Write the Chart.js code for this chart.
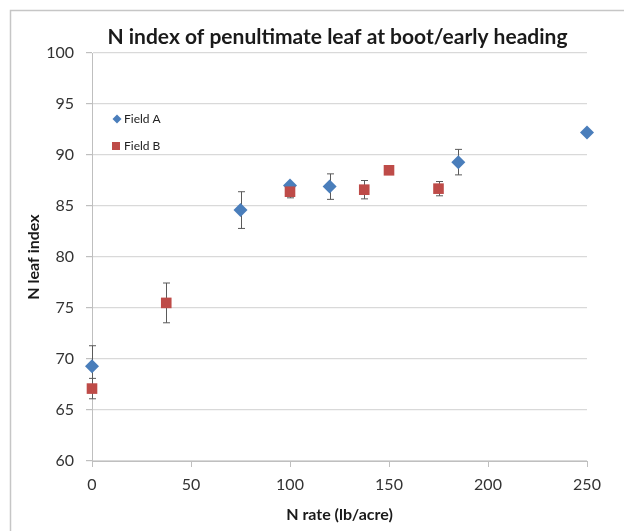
<!DOCTYPE html>
<html>
<head>
<meta charset="utf-8">
<script src="https://cdn.jsdelivr.net/npm/chart.js@4.4.1/dist/chart.umd.min.js"></script>
<style>
  html, body { margin: 0; padding: 0; background: #fff; }
</style>
</head>
<body>
<canvas id="nIndexChart" width="624" height="531"></canvas>
<script>
// Field A (diamonds)
const rateA = [0, 75, 100, 120, 185, 250];
const indexA = [69.3, 84.6, 87.0, 86.9, 89.3, 92.2];
const errA = [2.0, 1.8, 0, 1.25, 1.25, 0];

// Field B (squares)
const rateB = [0, 37.5, 100, 137.5, 150, 175];
const indexB = [67.1, 75.5, 86.4, 86.6, 88.5, 86.7];
const errB = [1.0, 1.95, 0.6, 0.9, 0.3, 0.7];

const xTicks = [0, 50, 100, 150, 200, 250];
const yTicks = [60, 65, 70, 75, 80, 85, 90, 95, 100];

const BLUE = '#4a7ebb';
const RED = '#be4b48';
const FONT = 'Lato, "Open Sans", sans-serif';

function toPoints(xs, ys) {
    return xs.map((x, i) => ({ x: x, y: ys[i] }));
}

// frame + title
const framePlugin = {
    id: 'frame',
    beforeDraw(chart) {
        const ctx = chart.ctx;
        ctx.save();
        ctx.strokeStyle = '#c6c6c6';
        ctx.lineWidth = 1.5;
        ctx.strokeRect(10.5, 10.5, 700, 600);
        ctx.restore();
    },
    afterDraw(chart) {
        const ctx = chart.ctx;
        const area = chart.chartArea;
        ctx.save();
        ctx.fillStyle = '#1a1a1a';
        ctx.font = 'bold 21px ' + FONT;
        ctx.textAlign = 'center';
        ctx.textBaseline = 'middle';
        ctx.fillText('N index of penultimate leaf at boot/early heading', (area.left + area.right) / 2 - 2, 37);
        ctx.restore();
    }
};

// error bars drawn under the markers
const errorBarPlugin = {
    id: 'errorBars',
    beforeDatasetsDraw(chart) {
        const ctx = chart.ctx;
        const xs = chart.scales.x, ys = chart.scales.y;
        const sets = [[rateA, indexA, errA], [rateB, indexB, errB]];
        ctx.save();
        ctx.strokeStyle = '#5a5a5a';
        ctx.lineWidth = 1;
        sets.forEach(([xv, yv, ev]) => {
            xv.forEach((x, i) => {
                if (!ev[i]) return;
                const px = Math.round(xs.getPixelForValue(x)) + 0.5;
                const top = ys.getPixelForValue(yv[i] + ev[i]);
                const bot = ys.getPixelForValue(yv[i] - ev[i]);
                ctx.beginPath();
                ctx.moveTo(px, top); ctx.lineTo(px, bot);
                ctx.moveTo(px - 3.5, top); ctx.lineTo(px + 3.5, top);
                ctx.moveTo(px - 3.5, bot); ctx.lineTo(px + 3.5, bot);
                ctx.stroke();
            });
        });
        ctx.restore();
    }
};

// legend placed inside the plot, upper left
const insideLegend = {
    id: 'insideLegend',
    afterDraw(chart) {
        const ctx = chart.ctx;
        ctx.save();
        ctx.fillStyle = BLUE;
        ctx.beginPath();
        ctx.moveTo(117, 114.5); ctx.lineTo(121.5, 119); ctx.lineTo(117, 123.5); ctx.lineTo(112.5, 119);
        ctx.closePath();
        ctx.fill();
        ctx.fillStyle = RED;
        ctx.fillRect(112, 142, 8, 8);
        ctx.fillStyle = '#222';
        ctx.font = '12px ' + FONT;
        ctx.textBaseline = 'middle';
        ctx.fillText('Field A', 124, 119);
        ctx.fillText('Field B', 124, 146);
        ctx.restore();
    }
};

new Chart(document.getElementById('nIndexChart'), {
    type: 'scatter',
    data: {
        datasets: [
            {
                label: 'Field A',
                data: toPoints(rateA, indexA),
                pointStyle: 'rectRot',
                pointRadius: 7,
                backgroundColor: BLUE,
                borderColor: BLUE,
                borderWidth: 0,
                clip: false,
                order: 2
            },
            {
                label: 'Field B',
                data: toPoints(rateB, indexB),
                pointStyle: 'rect',
                pointRadius: 7.5,
                backgroundColor: RED,
                borderColor: RED,
                borderWidth: 0,
                clip: false,
                order: 1
            }
        ]
    },
    options: {
        responsive: false,
        animation: false,
        layout: { padding: { top: 53, right: 37, left: 0, bottom: 0 } },
        plugins: {
            legend: { display: false },
            tooltip: { enabled: false },
            title: { display: false }
        },
        scales: {
            x: {
                type: 'linear',
                min: 0,
                max: 250,
                afterBuildTicks: (s) => { s.ticks = xTicks.map(v => ({ value: v })); },
                afterFit: (s) => { s.height = 70; },
                ticks: { color: '#333', font: { family: FONT, size: 16 }, padding: 8 },
                grid: { drawOnChartArea: false, drawTicks: true, tickLength: 6, tickColor: '#bfbfbf' },
                border: { color: '#bfbfbf', width: 1 },
                title: {
                    display: true,
                    text: 'N rate (lb/acre)',
                    color: '#1a1a1a',
                    font: { family: FONT, size: 16, weight: 'bold' },
                    padding: { top: 0, bottom: 7 }
                }
            },
            y: {
                type: 'linear',
                min: 60,
                max: 100,
                afterBuildTicks: (s) => { s.ticks = yTicks.map(v => ({ value: v })); },
                afterFit: (s) => { s.width = 92; },
                ticks: { color: '#333', font: { family: FONT, size: 16 }, padding: 12 },
                grid: { color: '#d9d9d9', lineWidth: 1.2, tickLength: 6, tickColor: '#bfbfbf' },
                border: { color: '#bfbfbf', width: 1 },
                title: {
                    display: true,
                    text: 'N leaf index',
                    color: '#1a1a1a',
                    font: { family: FONT, size: 16, weight: 'bold' },
                    padding: { top: 24, bottom: 0 }
                }
            }
        }
    },
    plugins: [framePlugin, errorBarPlugin, insideLegend]
});
</script>
</body>
</html>
